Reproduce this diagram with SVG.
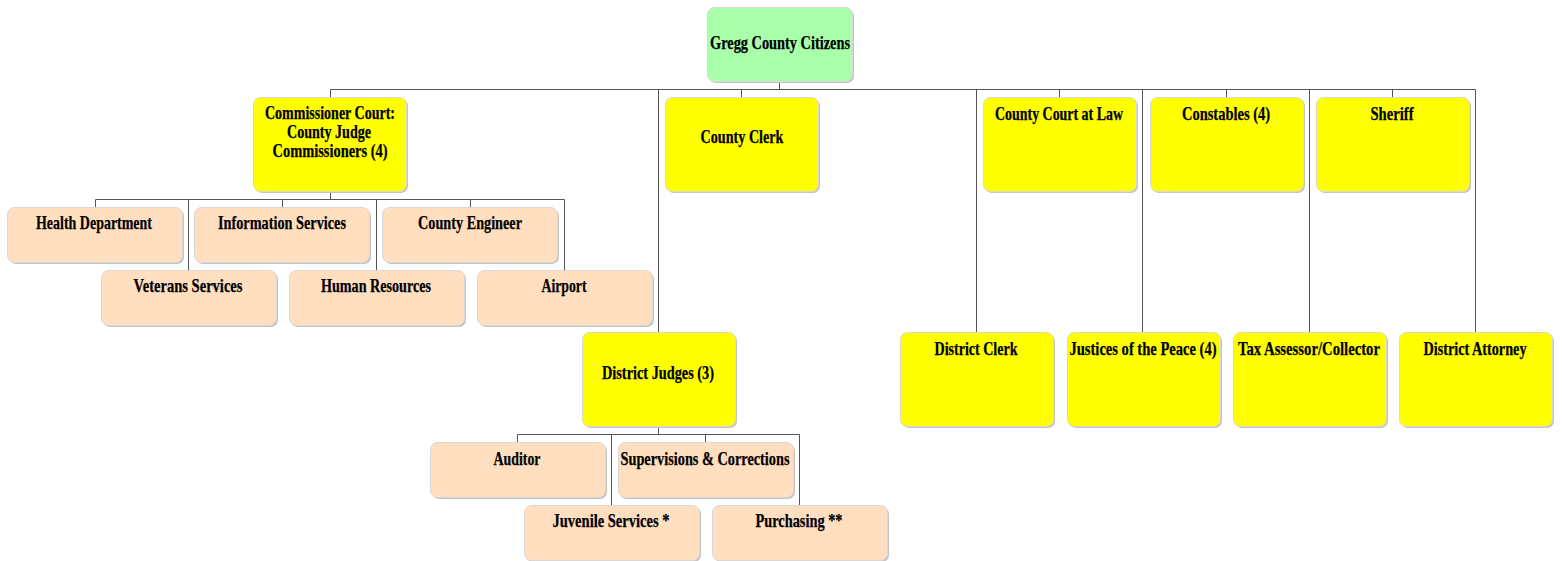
<svg xmlns="http://www.w3.org/2000/svg" width="1562" height="561" viewBox="0 0 1562 561">
<style>
.sh{fill:#c4c4c4}
.b{stroke:#d8d8d8;stroke-width:1}
.g{fill:#aaffaa}
.y{fill:#ffff00}
.p{fill:#ffdfbf}
text{font-size:19px;font-weight:bold;fill:#000;stroke:#000;stroke-width:0.25;text-anchor:middle}
.c{fill:none;stroke:#555;stroke-width:1}
</style>
<rect width="1562" height="561" fill="#fff"/>
<g id="connectors" class="c">
<path d="M779.5 81V89.5M330.5 89.5H1475.5M330.5 89.5V97M741.5 89.5V97M1059.5 89.5V97M1226.5 89.5V97M1392.5 89.5V97M658.5 89.5V332M976.5 89.5V332M1142.5 89.5V332M1309.5 89.5V332M1475.5 89.5V332"/>
<path d="M330.5 191V199.5M95.5 199.5H564.5M95.5 199.5V207M282.5 199.5V207M470.5 199.5V207M188.5 199.5V270M376.5 199.5V270M564.5 199.5V270"/>
<path d="M658.5 426V434.5M517.5 434.5H799.5M517.5 434.5V442M705.5 434.5V442M611.5 434.5V505M799.5 434.5V505"/>
</g>
<g font-family="Liberation Serif, Times New Roman, serif">
<g id="n-root"><rect class="sh" x="709" y="9" width="145" height="74" rx="7"/><rect class="g b" x="707.5" y="7.5" width="145" height="74" rx="7"/><text x="780" y="49" textLength="140" lengthAdjust="spacingAndGlyphs">Gregg County Citizens</text></g>
<g id="n-commissioner"><rect class="sh" x="255" y="99" width="153" height="94" rx="7"/><rect class="y b" x="253.5" y="97.5" width="153" height="94" rx="7"/><text x="330" y="119" textLength="130" lengthAdjust="spacingAndGlyphs">Commissioner Court:</text><text x="329" y="138" textLength="84" lengthAdjust="spacingAndGlyphs">County Judge</text><text x="330" y="157" textLength="115" lengthAdjust="spacingAndGlyphs">Commissioners (4)</text></g>
<g id="n-countyclerk"><rect class="sh" x="667" y="99" width="153" height="94" rx="7"/><rect class="y b" x="665.5" y="97.5" width="153" height="94" rx="7"/><text x="742" y="143" textLength="83" lengthAdjust="spacingAndGlyphs">County Clerk</text></g>
<g id="n-courtlaw"><rect class="sh" x="985" y="99" width="153" height="94" rx="7"/><rect class="y b" x="983.5" y="97.5" width="153" height="94" rx="7"/><text x="1059" y="120" textLength="128" lengthAdjust="spacingAndGlyphs">County Court at Law</text></g>
<g id="n-constables"><rect class="sh" x="1152" y="99" width="153" height="94" rx="7"/><rect class="y b" x="1150.5" y="97.5" width="153" height="94" rx="7"/><text x="1226" y="120" textLength="88" lengthAdjust="spacingAndGlyphs">Constables (4)</text></g>
<g id="n-sheriff"><rect class="sh" x="1318" y="99" width="153" height="94" rx="7"/><rect class="y b" x="1316.5" y="97.5" width="153" height="94" rx="7"/><text x="1392" y="120" textLength="43" lengthAdjust="spacingAndGlyphs">Sheriff</text></g>
<g id="n-districtjudges"><rect class="sh" x="584" y="334" width="153" height="94" rx="7"/><rect class="y b" x="582.5" y="332.5" width="153" height="94" rx="7"/><text x="658" y="379" textLength="112" lengthAdjust="spacingAndGlyphs">District Judges (3)</text></g>
<g id="n-districtclerk"><rect class="sh" x="902" y="334" width="153" height="94" rx="7"/><rect class="y b" x="900.5" y="332.5" width="153" height="94" rx="7"/><text x="976" y="355" textLength="83" lengthAdjust="spacingAndGlyphs">District Clerk</text></g>
<g id="n-justices"><rect class="sh" x="1069" y="334" width="153" height="94" rx="7"/><rect class="y b" x="1067.5" y="332.5" width="153" height="94" rx="7"/><text x="1143" y="355" textLength="147" lengthAdjust="spacingAndGlyphs">Justices of the Peace (4)</text></g>
<g id="n-tax"><rect class="sh" x="1235" y="334" width="153" height="94" rx="7"/><rect class="y b" x="1233.5" y="332.5" width="153" height="94" rx="7"/><text x="1309" y="355" textLength="142" lengthAdjust="spacingAndGlyphs">Tax Assessor/Collector</text></g>
<g id="n-da"><rect class="sh" x="1401" y="334" width="153" height="94" rx="7"/><rect class="y b" x="1399.5" y="332.5" width="153" height="94" rx="7"/><text x="1475" y="355" textLength="103" lengthAdjust="spacingAndGlyphs">District Attorney</text></g>
<g id="n-health"><rect class="sh" x="9" y="209" width="175" height="55" rx="7"/><rect class="p b" x="7.5" y="207.5" width="175" height="55" rx="7"/><text x="94" y="229" textLength="116" lengthAdjust="spacingAndGlyphs">Health Department</text></g>
<g id="n-info"><rect class="sh" x="196" y="209" width="175" height="55" rx="7"/><rect class="p b" x="194.5" y="207.5" width="175" height="55" rx="7"/><text x="282" y="229" textLength="128" lengthAdjust="spacingAndGlyphs">Information Services</text></g>
<g id="n-engineer"><rect class="sh" x="384" y="209" width="175" height="55" rx="7"/><rect class="p b" x="382.5" y="207.5" width="175" height="55" rx="7"/><text x="470" y="229" textLength="104" lengthAdjust="spacingAndGlyphs">County Engineer</text></g>
<g id="n-veterans"><rect class="sh" x="103" y="272" width="175" height="55" rx="7"/><rect class="p b" x="101.5" y="270.5" width="175" height="55" rx="7"/><text x="188" y="292" textLength="109" lengthAdjust="spacingAndGlyphs">Veterans Services</text></g>
<g id="n-hr"><rect class="sh" x="291" y="272" width="175" height="55" rx="7"/><rect class="p b" x="289.5" y="270.5" width="175" height="55" rx="7"/><text x="376" y="292" textLength="110" lengthAdjust="spacingAndGlyphs">Human Resources</text></g>
<g id="n-airport"><rect class="sh" x="479" y="272" width="175" height="55" rx="7"/><rect class="p b" x="477.5" y="270.5" width="175" height="55" rx="7"/><text x="564" y="292" textLength="45" lengthAdjust="spacingAndGlyphs">Airport</text></g>
<g id="n-auditor"><rect class="sh" x="432" y="444" width="175" height="55" rx="7"/><rect class="p b" x="430.5" y="442.5" width="175" height="55" rx="7"/><text x="517" y="465" textLength="47" lengthAdjust="spacingAndGlyphs">Auditor</text></g>
<g id="n-supervisions"><rect class="sh" x="620" y="444" width="175" height="55" rx="7"/><rect class="p b" x="618.5" y="442.5" width="175" height="55" rx="7"/><text x="705" y="465" textLength="169" lengthAdjust="spacingAndGlyphs">Supervisions &amp; Corrections</text></g>
<g id="n-juvenile"><rect class="sh" x="526" y="507" width="175" height="55" rx="7"/><rect class="p b" x="524.5" y="505.5" width="175" height="55" rx="7"/><text x="611" y="527" textLength="117" lengthAdjust="spacingAndGlyphs">Juvenile Services *</text></g>
<g id="n-purchasing"><rect class="sh" x="714" y="507" width="175" height="55" rx="7"/><rect class="p b" x="712.5" y="505.5" width="175" height="55" rx="7"/><text x="799" y="527" textLength="87" lengthAdjust="spacingAndGlyphs">Purchasing **</text></g>
</g>
</svg>
